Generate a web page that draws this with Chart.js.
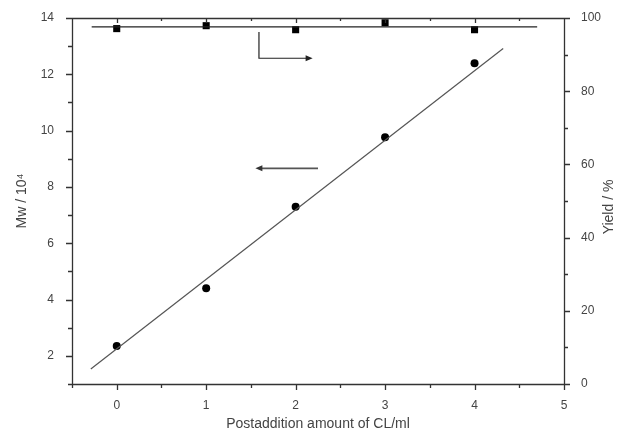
<!DOCTYPE html>
<html>
<head>
<meta charset="utf-8">
<script src="https://cdn.jsdelivr.net/npm/chart.js@4"></script>
<style>
html,body{margin:0;padding:0;background:#fff;}
#wrap{width:622px;height:439px;position:relative;}
</style>
</head>
<body>
<div id="wrap"><canvas id="c" width="622" height="439"></canvas></div>
<script>
// ---- data ----
const clAmount = [0, 1, 2, 3, 4];
const mwValues = [2.35, 4.4, 7.3, 9.76, 12.39];
const yieldValues = [97.1, 97.9, 96.8, 98.7, 96.8];
const mwFitX = [-0.29, 4.32];
const mwFitY = [1.53, 12.92];
const yieldFitX = [-0.28, 4.7];
const yieldFitY = [97.6, 97.6];
const xTicks = [0, 1, 2, 3, 4, 5];
const xMinorTicks = [-0.5, 0.5, 1.5, 2.5, 3.5, 4.5];
const mwTicks = [2, 4, 6, 8, 10, 12, 14];
const mwMinorTicks = [1, 3, 5, 7, 9, 11, 13];
const yieldTicks = [0, 20, 40, 60, 80, 100];
const yieldMinorTicks = [10, 30, 50, 70, 90];

const AXIS = '#333';
const TXT = '#444';
const FONT = "'Liberation Sans', Arial, sans-serif";

const framePlugin = {
  id: 'frame',
  afterDatasetsDraw(chart) {
    const ctx = chart.ctx;
    const a = chart.chartArea;
    const sx = chart.scales.x, sy = chart.scales.y, sy1 = chart.scales.y1;
    ctx.save();
    ctx.strokeStyle = AXIS;
    ctx.lineWidth = 1.3;
    ctx.beginPath();
    ctx.moveTo(a.left - 1, a.bottom + 0.5); ctx.lineTo(a.right + 1, a.bottom + 0.5);
    ctx.moveTo(a.left - 1, a.top + 0.5); ctx.lineTo(a.right + 1, a.top + 0.5);
    ctx.moveTo(a.left + 0.5, a.top); ctx.lineTo(a.left + 0.5, a.bottom + 1);
    ctx.moveTo(a.right + 0.5, a.top); ctx.lineTo(a.right + 0.5, a.bottom + 1);
    xTicks.forEach(v => {
      const p = Math.round(sx.getPixelForValue(v)) + 0.5;
      ctx.moveTo(p, a.bottom); ctx.lineTo(p, a.bottom + 6);
      ctx.moveTo(p, a.top); ctx.lineTo(p, a.top + 5);
    });
    xMinorTicks.forEach(v => {
      const p = Math.round(sx.getPixelForValue(v)) + 0.5;
      ctx.moveTo(p, a.bottom); ctx.lineTo(p, a.bottom + 4);
      ctx.moveTo(p, a.top); ctx.lineTo(p, a.top + 3);
    });
    mwTicks.forEach(v => {
      const p = Math.round(sy.getPixelForValue(v)) + 0.5;
      ctx.moveTo(a.left, p); ctx.lineTo(a.left - 6, p);
    });
    mwMinorTicks.forEach(v => {
      const p = Math.round(sy.getPixelForValue(v)) + 0.5;
      ctx.moveTo(a.left, p); ctx.lineTo(a.left - 4, p);
    });
    yieldTicks.forEach(v => {
      const p = Math.round(sy1.getPixelForValue(v)) + 0.5;
      ctx.moveTo(a.right, p); ctx.lineTo(a.right + 6, p);
    });
    yieldMinorTicks.forEach(v => {
      const p = Math.round(sy1.getPixelForValue(v)) + 0.5;
      ctx.moveTo(a.right, p); ctx.lineTo(a.right + 4, p);
    });
    ctx.stroke();

    function head(x, y, dir) {
      ctx.beginPath();
      ctx.moveTo(x, y);
      ctx.lineTo(x - dir * 7, y - 3);
      ctx.lineTo(x - dir * 7, y + 3);
      ctx.closePath();
      ctx.fill();
    }
    // arrow pointing to right axis (yield)
    ctx.fillStyle = '#222';
    ctx.strokeStyle = '#222';
    ctx.lineWidth = 1.2;
    const ax = sx.getPixelForValue(1.59);
    const ay0 = sy1.getPixelForValue(96.2);
    const ay1 = sy1.getPixelForValue(89.0);
    const ax2 = sx.getPixelForValue(2.19);
    ctx.beginPath();
    ctx.moveTo(ax, ay0); ctx.lineTo(ax, ay1); ctx.lineTo(ax2 - 4, ay1);
    ctx.stroke();
    head(ax2, ay1, 1);
    // arrow pointing to left axis (Mw)
    ctx.strokeStyle = '#555';
    ctx.fillStyle = '#333';
    ctx.lineWidth = 1.8;
    const by = sy.getPixelForValue(8.66);
    const bx0 = sx.getPixelForValue(2.25);
    const bx1 = sx.getPixelForValue(1.55);
    ctx.beginPath();
    ctx.moveTo(bx0, by); ctx.lineTo(bx1 + 4, by);
    ctx.stroke();
    head(bx1, by, -1);

    // right axis title (reads bottom to top)
    ctx.fillStyle = TXT;
    ctx.font = '14px ' + FONT;
    ctx.textAlign = 'center';
    ctx.textBaseline = 'middle';
    ctx.translate(609, (a.top + a.bottom) / 2 + 6);
    ctx.rotate(-Math.PI / 2);
    ctx.fillText('Yield / %', 0, 0);
    ctx.restore();
  }
};

new Chart(document.getElementById('c'), {
  type: 'scatter',
  data: {
    datasets: [
      {
        data: mwFitX.map((x, i) => ({x, y: mwFitY[i]})),
        yAxisID: 'y', showLine: true, pointRadius: 0,
        borderColor: '#555', borderWidth: 1.2
      },
      {
        data: yieldFitX.map((x, i) => ({x, y: yieldFitY[i]})),
        yAxisID: 'y1', showLine: true, pointRadius: 0,
        borderColor: '#222', borderWidth: 1.3
      },
      {
        data: clAmount.map((x, i) => ({x, y: mwValues[i]})),
        yAxisID: 'y', pointStyle: 'circle', pointRadius: 4,
        backgroundColor: '#000', borderColor: '#000', borderWidth: 0
      },
      {
        data: clAmount.map((x, i) => ({x, y: yieldValues[i]})),
        yAxisID: 'y1', pointStyle: 'rect', pointRadius: 5,
        backgroundColor: '#000', borderColor: '#000', borderWidth: 0
      }
    ]
  },
  options: {
    responsive: false,
    animation: false,
    events: [],
    layout: { padding: { top: 18, left: 0, right: 0, bottom: 0 } },
    plugins: { legend: { display: false }, tooltip: { enabled: false } },
    scales: {
      x: {
        type: 'linear', position: 'bottom', min: -0.5, max: 5,
        grid: { display: false }, border: { display: false },
        afterBuildTicks: s => { s.ticks = xTicks.map(v => ({value: v})); },
        afterFit: s => { s.height = 55; },
        ticks: { color: TXT, font: { family: FONT, size: 12 }, padding: 6 },
        title: { display: true, text: 'Postaddition amount of CL/ml', color: TXT,
                 font: { family: FONT, size: 14 }, padding: { top: 0, bottom: 6 } }
      },
      y: {
        type: 'linear', position: 'left', min: 1, max: 14,
        grid: { display: false }, border: { display: false },
        afterBuildTicks: s => { s.ticks = mwTicks.map(v => ({value: v})); },
        afterFit: s => { s.width = 72; },
        ticks: { color: TXT, font: { family: FONT, size: 12 }, padding: 10 },
        title: { display: true, text: 'Mw / 10\u2074', color: TXT,
                 font: { family: FONT, size: 14 }, padding: { top: 14, bottom: 0 } }
      },
      y1: {
        type: 'linear', position: 'right', min: 0, max: 100,
        grid: { display: false }, border: { display: false },
        afterBuildTicks: s => { s.ticks = yieldTicks.map(v => ({value: v})); },
        afterFit: s => { s.width = 58; },
        ticks: { color: TXT, font: { family: FONT, size: 12 }, padding: 9 }
      }
    }
  },
  plugins: [framePlugin]
});
</script>
</body>
</html>
